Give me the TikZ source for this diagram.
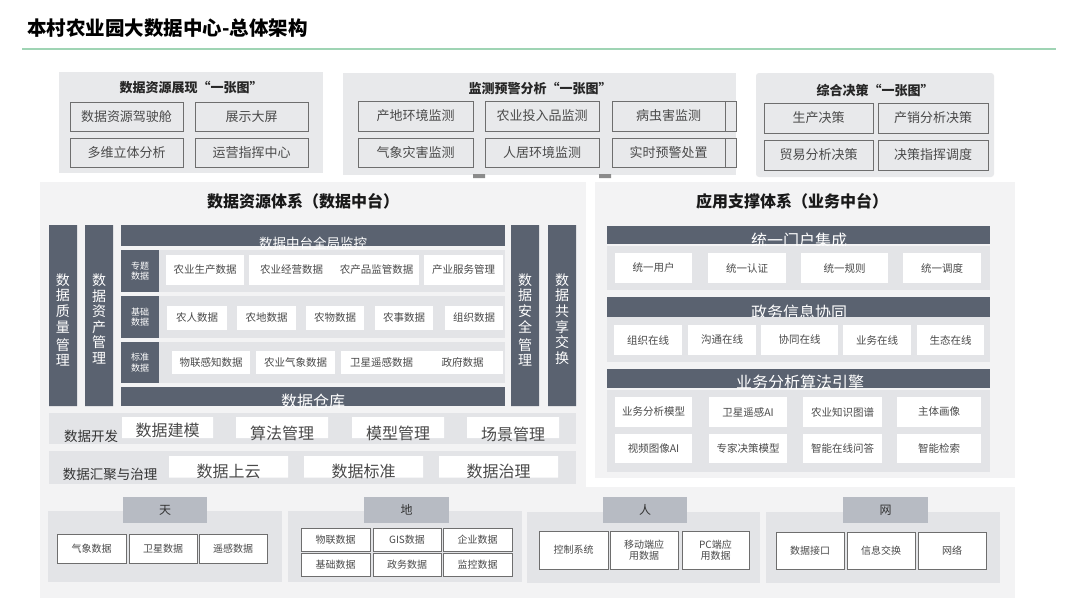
\documentclass[tikz,border=0pt]{standalone}
\usepackage{fontspec}
\setmainfont{Noto Sans CJK SC}
\usepackage{tikz}
\usetikzlibrary{positioning}
\usepackage{xcolor}
\definecolor{barc}{HTML}{5A6270}
\definecolor{rowc}{HTML}{E3E4E7}
\definecolor{panelc}{HTML}{F3F3F4}
\definecolor{topbg}{HTML}{E8E9EB}
\definecolor{tabc}{HTML}{B7BBC3}
\definecolor{edgec}{HTML}{6E6E6E}
\definecolor{txtc}{HTML}{4A4A4A}
\definecolor{linec}{HTML}{9FD4B4}
\tikzset{
  topitem/.style={draw=edgec, line width=0.8pt, inner sep=0, text=txtc, font=\fontsize{13}{15}\selectfont},
  topttl/.style={text=black!85, font=\bfseries\fontsize{13}{15}\selectfont},
  secttl/.style={text=black!90, font=\bfseries\fontsize{16}{18}\selectfont},
  bartxt/.style={text=white, inner sep=0},
  cell/.style={fill=white, inner sep=0, text=txtc, font=\fontsize{10.5}{12}\selectfont},
  lbl/.style={fill=barc, inner sep=0, text=white, align=left, font=\fontsize{9}{10.5}\selectfont},
  vtxt/.style={text=white, align=center, inner sep=0, font=\fontsize{14}{15.6}\selectfont},
  devtxt/.style={text=txtc, inner sep=0, font=\fontsize{16}{18}\selectfont},
  tab/.style={fill=tabc, inner sep=0, text=black!80, font=\fontsize{12}{14}\selectfont},
  bitem/.style={draw=edgec, fill=white, line width=0.7pt, inner sep=0, align=center, text=txtc, font=\fontsize{10}{11.5}\selectfont}
}
\begin{document}
\begin{tikzpicture}[x=1pt, y=-1pt]
  \useasboundingbox (0,0) rectangle (1080,608);
  \fill[white] (0,0) rectangle (1080,608);

  % Title
  \node[anchor=west, inner sep=0, font=\bfseries\fontsize{19.5}{22}\selectfont] (title) at (27,28) {本村农业园大数据中心-总体架构};
  \draw[linec, line width=1.5pt] (22,49) -- (1056,49);

  % Display "one map"
  \fill[topbg] (59,72) rectangle (323,173);
  \node[topttl] (dispttl) at (191,88) {数据资源展现“一张图”};
  \node[topitem, minimum width=113, minimum height=29] (cockpit) at (126.5,116.5) {数据资源驾驶舱};
  \node[topitem, minimum width=113, minimum height=29] (bigscreen) at (251.5,116.5) {展示大屏};
  \node[topitem, minimum width=113, minimum height=29] (multidim) at (126.5,152.5) {多维立体分析};
  \node[topitem, minimum width=113, minimum height=29] (command) at (251.5,152.5) {运营指挥中心};

  % Monitoring "one map"
  \fill[topbg] (343,73) rectangle (736,175);
  \node[topttl] (monttl) at (540,89) {监测预警分析“一张图”};
  \node[topitem, minimum width=115, minimum height=30] (origin) at (415.5,116) {产地环境监测};
  \node[topitem, minimum width=114, minimum height=30] (inputs) at (542,116) {农业投入品监测};
  \node[topitem, minimum width=113, minimum height=30] (pests) at (668.5,116) {病虫害监测};
  \node[topitem, minimum width=115, minimum height=29] (weather) at (415.5,152.5) {气象灾害监测};
  \node[topitem, minimum width=114, minimum height=29] (living) at (542,152.5) {人居环境监测};
  \node[topitem, minimum width=113, minimum height=29] (alarm) at (668.5,152.5) {实时预警处置};
  \draw[edgec, line width=0.8pt] (725,101) rectangle (736,131) (725,138) rectangle (736,167);
  \fill[edgec!80] (473,174) rectangle (485,178) (599,174) rectangle (611,178);

  % Decision "one map"
  \fill[topbg, rounded corners=3pt] (756,73) rectangle (994,177);
  \node[topttl] (decttl) at (875,90) {综合决策“一张图”};
  \node[topitem, minimum width=109, minimum height=30] (prod) at (818.5,118) {生产决策};
  \node[topitem, minimum width=110, minimum height=30] (sales) at (933,118) {产销分析决策};
  \node[topitem, minimum width=109, minimum height=30] (trade) at (818.5,155) {贸易分析决策};
  \node[topitem, minimum width=110, minimum height=30] (dispatch) at (933,155) {决策指挥调度};

  % Data resource system
  \fill[panelc] (40,182) rectangle (586,487);
  \node[secttl] (datattl) at (303,201) {数据资源体系（数据中台）};
  \fill[barc] (49,225) rectangle (77,406) (85,225) rectangle (113,406);
  \fill[barc] (511,225) rectangle (539,406) (548,225) rectangle (576,406);
  \node[vtxt] (quality) at (63,320) {数\\据\\质\\量\\[2.5pt]管\\理};
  \node[vtxt] (asset) at (99,319) {数\\据\\资\\产\\管\\理};
  \node[vtxt] (security) at (525,320) {数\\据\\安\\全\\[2.5pt]管\\理};
  \node[vtxt] (sharing) at (562,319) {数\\据\\共\\享\\交\\换};

  \fill[barc] (121,225) rectangle (505,246);
  \node[bartxt, font=\fontsize{13.5}{15}\selectfont] (monitor) at (313,243) {数据中台全局监控};

  % Topic data
  \fill[rowc] (121,250) rectangle (505,292);
  \node[lbl, minimum width=38, minimum height=42] (topic) at (140,271) {专题\\数据};
  \node[cell, minimum width=78, minimum height=30] (agprod) at (205,269.5) {农业生产数据};
  \node[cell, minimum width=85, minimum height=30] (agbiz) at (291.5,269.5) {农业经营数据};
  \node[cell, minimum width=85, minimum height=30] (agsup) at (376.5,269.5) {农产品监管数据};
  \node[cell, minimum width=79, minimum height=30] (indserv) at (463.5,269.5) {产业服务管理};

  % Basic data
  \fill[rowc] (121,296) rectangle (505,338);
  \node[lbl, minimum width=38, minimum height=42] (basic) at (140,317) {基础\\数据};
  \node[cell, minimum width=60, minimum height=24] (farmer) at (197,318) {农人数据};
  \node[cell, minimum width=59, minimum height=24] (land) at (266.5,318) {农地数据};
  \node[cell, minimum width=58, minimum height=24] (crop) at (335,318) {农物数据};
  \node[cell, minimum width=58, minimum height=24] (work) at (404,318) {农事数据};
  \node[cell, minimum width=58, minimum height=24] (org) at (474,318) {组织数据};

  % Standard data
  \fill[rowc] (121,342) rectangle (505,383);
  \node[lbl, minimum width=38, minimum height=41] (standard) at (140,362.5) {标准\\数据};
  \node[cell, minimum width=78, minimum height=23] (iot) at (211,362.5) {物联感知数据};
  \node[cell, minimum width=79, minimum height=23] (agmet) at (295.5,362.5) {农业气象数据};
  \node[cell, minimum width=81, minimum height=23] (satrs) at (381.5,362.5) {卫星遥感数据};
  \node[cell, minimum width=81, minimum height=23] (gov) at (462.5,362.5) {政府数据};

  \fill[barc] (121,387) rectangle (505,406);
  \node[bartxt, font=\fontsize{16}{18}\selectfont] (warehouse) at (313,401) {数据仓库};

  % Data development
  \fill[rowc] (49,413) rectangle (576,444);
  \node[text=black!80, font=\fontsize{13.5}{15}\selectfont] (devlbl) at (91,436) {数据开发};
  \fill[white] (122,417) rectangle (213,438) (236,417) rectangle (328,438)
               (352,417) rectangle (444,438) (467,417) rectangle (559,438);
  \node[devtxt] (modeling) at (167.5,430) {数据建模};
  \node[devtxt] (algo) at (282,433) {算法管理};
  \node[devtxt] (model) at (398,433) {模型管理};
  \node[devtxt] (scene) at (513,434) {场景管理};

  % Data aggregation and governance
  \fill[rowc] (49,451) rectangle (576,484);
  \node[text=black!80, font=\fontsize{13.5}{15}\selectfont] (agglbl) at (110,474) {数据汇聚与治理};
  \fill[white] (169,456) rectangle (288,477.5) (304,456) rectangle (423,477.5)
               (439,456) rectangle (558,477.5);
  \node[devtxt] (cloud) at (228.5,471) {数据上云};
  \node[devtxt] (stdz) at (363.5,471) {数据标准};
  \node[devtxt] (govern) at (498.5,471) {数据治理};

  % Application support system
  \fill[panelc] (595,182) rectangle (1015,478);
  \node[secttl] (appttl) at (792,201) {应用支撑体系（业务中台）};

  \fill[barc] (607,226) rectangle (990,244);
  \node[bartxt, font=\fontsize{16}{18}\selectfont] (portal) at (799,240) {统一门户集成};
  \fill[rowc] (607,246) rectangle (990,290);
  \node[cell, minimum width=77, minimum height=30] (user) at (653.5,268) {统一用户};
  \node[cell, minimum width=78, minimum height=30] (auth) at (747,268) {统一认证};
  \node[cell, minimum width=87, minimum height=30] (rule) at (844.5,268) {统一规则};
  \node[cell, minimum width=78, minimum height=30] (sched) at (942,268) {统一调度};

  \fill[barc] (607,297) rectangle (990,317);
  \node[bartxt, font=\fontsize{16}{18}\selectfont] (govinfo) at (799,312) {政务信息协同};
  \fill[rowc] (607,317) rectangle (990,362);
  \node[cell, minimum width=68, minimum height=30] (orgon) at (648,340) {组织在线};
  \node[cell, minimum width=68, minimum height=30] (commun) at (722,340) {沟通在线};
  \node[cell, minimum width=77, minimum height=30] (collab) at (799.5,340) {协同在线};
  \node[cell, minimum width=68, minimum height=30] (bizon) at (877,340) {业务在线};
  \node[cell, minimum width=67, minimum height=30] (eco) at (950.5,340) {生态在线};

  \fill[barc] (607,369) rectangle (990,388);
  \node[bartxt, font=\fontsize{16}{18}\selectfont] (engine) at (800,382) {业务分析算法引擎};
  \fill[rowc] (607,390) rectangle (990,472);
  \node[cell, minimum width=77, minimum height=30] (bizmodel) at (653.5,412) {业务分析模型};
  \node[cell, minimum width=78, minimum height=30] (satai) at (748,412) {卫星遥感AI};
  \node[cell, minimum width=79, minimum height=30] (kgraph) at (842.5,412) {农业知识图谱};
  \node[cell, minimum width=84, minimum height=30] (portrait) at (939,412) {主体画像};
  \node[cell, minimum width=77, minimum height=29] (videoai) at (653.5,448.5) {视频图像AI};
  \node[cell, minimum width=78, minimum height=29] (expert) at (748,448.5) {专家决策模型};
  \node[cell, minimum width=79, minimum height=29] (qa) at (842.5,448.5) {智能在线问答};
  \node[cell, minimum width=84, minimum height=29] (search) at (939,448.5) {智能检索};

  % Sky, land, people, network
  \fill[panelc] (40,487) rectangle (1015,598);

  \fill[rowc] (48,511) rectangle (282,582);
  \node[tab, minimum width=84, minimum height=26] (sky) at (165,510) {天};
  \node[bitem, minimum width=69, minimum height=29] (met) at (91.5,548.5) {气象数据};
  \node[bitem, minimum width=68, minimum height=29] (sat) at (163,548.5) {卫星数据};
  \node[bitem, minimum width=68, minimum height=29] (rs) at (233,548.5) {遥感数据};

  \fill[rowc] (288,511) rectangle (522,582);
  \node[tab, minimum width=85, minimum height=26] (land) at (406.5,510) {地};
  \node[bitem, minimum width=69, minimum height=23] (iotd) at (335.5,539.5) {物联数据};
  \node[bitem, minimum width=68, minimum height=23] (gis) at (407,539.5) {GIS数据};
  \node[bitem, minimum width=69, minimum height=23] (ent) at (477.5,539.5) {企业数据};
  \node[bitem, minimum width=69, minimum height=23] (based) at (335.5,564.5) {基础数据};
  \node[bitem, minimum width=68, minimum height=23] (govd) at (407,564.5) {政务数据};
  \node[bitem, minimum width=69, minimum height=23] (mond) at (477.5,564.5) {监控数据};

  \fill[rowc] (527,512) rectangle (760,583);
  \node[tab, minimum width=84, minimum height=26] (people) at (645,510) {人};
  \node[bitem, minimum width=69, minimum height=38] (ctrl) at (573.5,550) {控制系统};
  \node[bitem, minimum width=68, minimum height=38] (mobile) at (644,550) {移动端应\\用数据};
  \node[bitem, minimum width=67, minimum height=38] (pc) at (715.5,550) {PC端应\\用数据};

  \fill[rowc] (766,512) rectangle (1000,583);
  \node[tab, minimum width=85, minimum height=26] (net) at (885.5,510) {网};
  \node[bitem, minimum width=68, minimum height=37] (iface) at (810,550.5) {数据接口};
  \node[bitem, minimum width=68, minimum height=37] (exch) at (881,550.5) {信息交换};
  \node[bitem, minimum width=68, minimum height=37] (network) at (952,550.5) {网络};
\end{tikzpicture}
\end{document}
